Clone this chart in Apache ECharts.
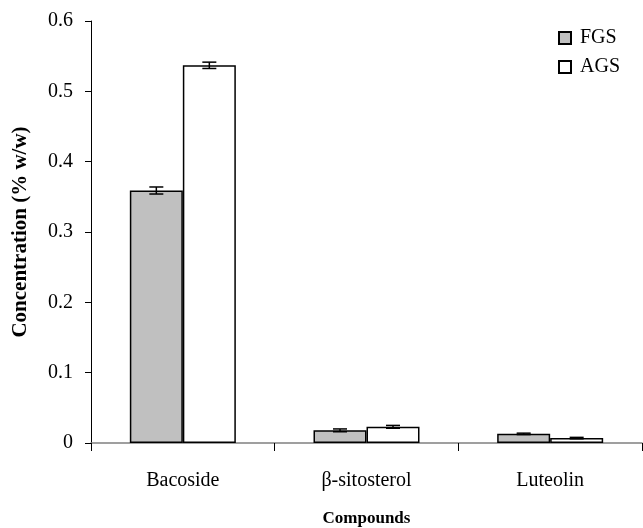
<!DOCTYPE html>
<html>
<head>
<meta charset="utf-8">
<script src="https://cdn.jsdelivr.net/npm/echarts@6/dist/echarts.min.js"></script>
<style>
  html, body { margin: 0; padding: 0; background: #fff; }
  #chart { width: 643px; height: 528px; }
</style>
</head>
<body>
<div id="chart"></div>
<script>
  // data
  var compounds = ['Bacoside', 'β-sitosterol', 'Luteolin'];
  var fgsValues = [0.359, 0.018, 0.013];
  var agsValues = [0.537, 0.023, 0.007];
  var fgsErrors = [0.005, 0.002, 0.001];
  var agsErrors = [0.0045, 0.002, 0.001];
  var yTicks = [0, 0.1, 0.2, 0.3, 0.4, 0.5, 0.6];

  var FONT = '"Liberation Serif", "DejaVu Serif", serif';
  var BAR_W = 53;

  function errData(vals, errs) {
    return vals.map(function (v, i) { return [i, v, errs[i]]; });
  }

  // error bar drawn over one of the two bars, side = -1 left bar, +1 right bar
  function errRender(side) {
    return function (params, api) {
      var i = api.value(0), v = api.value(1), e = api.value(2);
      var hi = api.coord([i, v + e]);
      var lo = api.coord([i, v - e]);
      var x = hi[0] + side * BAR_W / 2;
      var cap = 7;
      var st = { stroke: '#000', lineWidth: 1.5 };
      return {
        type: 'group',
        children: [
          { type: 'line', shape: { x1: x, y1: hi[1], x2: x, y2: lo[1] }, style: st },
          { type: 'line', shape: { x1: x - cap, y1: hi[1], x2: x + cap, y2: hi[1] }, style: st },
          { type: 'line', shape: { x1: x - cap, y1: lo[1], x2: x + cap, y2: lo[1] }, style: st }
        ]
      };
    };
  }

  var chart = echarts.init(document.getElementById('chart'));
  var option = {
    backgroundColor: '#fff',
    animation: false,
    textStyle: { fontFamily: FONT },
    grid: { left: 91, right: 1, top: 21, bottom: 85, containLabel: false, outerBoundsMode: 'none' },
    legend: {
      orient: 'vertical',
      left: 553,
      top: 23,
      itemWidth: 12,
      itemHeight: 12,
      itemGap: 9,
      icon: 'rect',
      textStyle: { fontFamily: FONT, fontSize: 20, color: '#000', padding: [0, 0, 0, 4] },
      data: ['FGS', 'AGS']
    },
    xAxis: {
      type: 'category',
      data: compounds,
      name: 'Compounds',
      nameLocation: 'middle',
      nameGap: 67,
      nameTextStyle: { fontFamily: FONT, fontSize: 17, fontWeight: 'bold', color: '#000' },
      axisLine: { lineStyle: { color: '#808080', width: 1.5 } },
      axisTick: { show: true, length: 8, lineStyle: { color: '#000', width: 1 } },
      axisLabel: { fontFamily: FONT, fontSize: 20, color: '#000', margin: 28 },
      splitLine: { show: false }
    },
    yAxis: {
      type: 'value',
      min: 0,
      max: 0.6,
      interval: 0.1,
      name: 'Concentration (% w/w)',
      nameLocation: 'middle',
      nameGap: 60,
      nameTextStyle: { fontFamily: FONT, fontSize: 21, fontWeight: 'bold', color: '#000' },
      axisLine: { show: true, lineStyle: { color: '#000', width: 1 } },
      axisTick: { show: true, length: 6, lineStyle: { color: '#000' } },
      axisLabel: {
        fontFamily: FONT, fontSize: 20, color: '#000', margin: 18,
        formatter: function (v) {
          var t = yTicks.filter(function (k) { return Math.abs(k - v) < 1e-9; })[0];
          return t === 0 ? '0' : String(+v.toFixed(1));
        }
      },
      splitLine: { show: false }
    },
    series: [
      {
        name: 'FGS', type: 'bar', data: fgsValues, barWidth: BAR_W, barGap: '0%',
        itemStyle: { color: '#c0c0c0', borderColor: '#000', borderWidth: 1.5 }
      },
      {
        name: 'AGS', type: 'bar', data: agsValues, barWidth: BAR_W, barGap: '0%',
        itemStyle: { color: '#fff', borderColor: '#000', borderWidth: 1.5 }
      },
      {
        type: 'custom', renderItem: errRender(-1), data: errData(fgsValues, fgsErrors),
        encode: { x: 0, y: 1 }, z: 10, silent: true
      },
      {
        type: 'custom', renderItem: errRender(1), data: errData(agsValues, agsErrors),
        encode: { x: 0, y: 1 }, z: 10, silent: true
      }
    ]
  };
  chart.setOption(option);
</script>
</body>
</html>
